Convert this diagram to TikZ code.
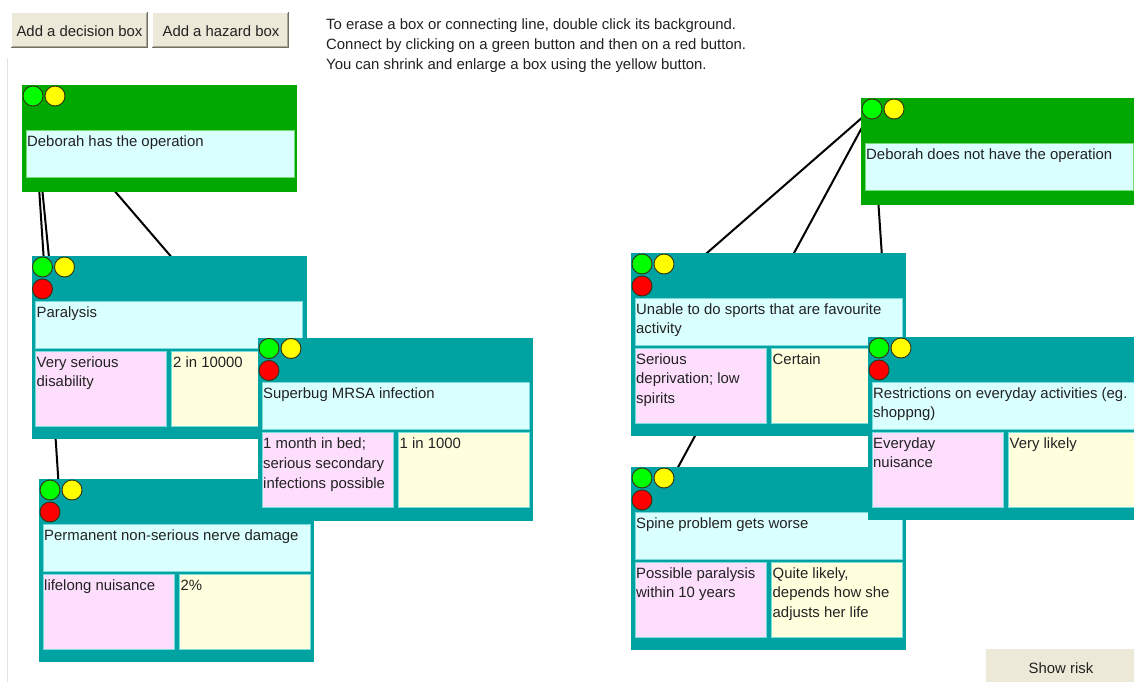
\documentclass[tikz,border=0pt]{standalone}
\usepackage{fontspec}
\setmainfont{Liberation Sans}
\definecolor{decg}{RGB}{0,168,0}
\definecolor{tealc}{RGB}{0,162,162}
\definecolor{cyanc}{RGB}{218,255,255}
\definecolor{pinkc}{RGB}{253,222,253}
\definecolor{yelc}{RGB}{255,255,222}
\definecolor{cyanedge}{RGB}{120,220,220}
\definecolor{greenedge}{RGB}{120,220,120}
\definecolor{btn}{RGB}{236,233,216}
\definecolor{btnshade}{RGB}{172,168,153}
\definecolor{btndark}{RGB}{113,111,100}
\definecolor{txt}{RGB}{34,34,34}
\definecolor{ledgreen}{RGB}{0,255,0}
\definecolor{ledyellow}{RGB}{255,255,0}
\definecolor{ledred}{RGB}{255,0,0}
\definecolor{ledline}{RGB}{50,50,20}
\definecolor{frameline}{RGB}{226,226,226}
\pgfdeclarelayer{back}
\pgfdeclarelayer{lines}
\pgfsetlayers{back,lines,main}
\tikzset{
  boxtext/.style={anchor=north west, inner sep=0pt, align=left, font=\fontsize{14.9}{19.6}\selectfont, text=txt},
  led/.style={circle, minimum size=20pt, inner sep=0pt, draw=ledline, line width=0.9pt},
  celledge/.style={draw=#1, line width=0.7pt},
  celledge/.default=cyanedge,
  conn/.style={draw=black, line width=2pt},
  btnlabel/.style={anchor=base, inner sep=0pt, font=\fontsize{14.9}{19.6}\selectfont, text=txt},
}
\newcommand\winbutton[4]{% x1,y1,x2,y2
  \fill[btn] (#1,#2) rectangle (#3,#4);
  \draw[white, line width=1pt] (#1+0.5,#4) -- (#1+0.5,#2+0.5) -- (#3,#2+0.5);
  \draw[btnshade, line width=1pt] (#1+1,#4-1.5) -- (#3-1.5,#4-1.5) -- (#3-1.5,#2+1);
  \draw[btndark, line width=1pt] (#1,#4-0.5) -- (#3-0.5,#4-0.5) -- (#3-0.5,#2);
}
\newcommand\decisionbox[4]{% name, x, y, title
  \begin{scope}[shift={(#2,#3)}]
    \coordinate (#1) at (0,0);
    \fill[decg] (0,0) rectangle (275,107);
    \draw[celledge=greenedge, fill=cyanc] (4,45) rectangle (272,92);
    \node[boxtext] (#1t) at (5,47.4) {\strut #4};
    \node[led, fill=ledgreen] (#1g) at (11,11) {};
    \node[led, fill=ledyellow] (#1y) at (33,11) {};
  \end{scope}}
\newcommand\hazardbox[6]{% name, x, y, title, impact, probability
  \begin{scope}[shift={(#2,#3)}]
    \coordinate (#1) at (0,0);
    \fill[tealc] (0,0) rectangle (275,183);
    \draw[celledge, fill=cyanc] (4,45) rectangle (271,92);
    \draw[celledge, fill=pinkc] (4,95) rectangle (135,170);
    \draw[celledge, fill=yelc] (140,95) rectangle (271,170);
    \node[boxtext] (#1t) at (5,47.4) {\strut #4};
    \node[boxtext] (#1i) at (5,97.4) {\strut #5};
    \node[boxtext] (#1p) at (141.5,97.4) {\strut #6};
    \node[led, fill=ledred] (#1r) at (11,33) {};
    \node[led, fill=ledgreen] (#1g) at (11,11) {};
    \node[led, fill=ledyellow] (#1y) at (33,11) {};
  \end{scope}}
\begin{document}
\begin{tikzpicture}[x=1pt, y=-1pt]
  \useasboundingbox (0,0) rectangle (1134,682);
  \clip (0,0) rectangle (1134,682);
  \begin{pgfonlayer}{back}
    \fill[white] (0,0) rectangle (1134,682);
    \draw[frameline, line width=1pt] (7,58) -- (7,682);
  \end{pgfonlayer}

  % buttons and help text
  \winbutton{11}{12}{148}{48}
  \node[btnlabel] (adddec) at (79.5,36.5) {Add a decision box};
  \winbutton{152}{12}{289}{48}
  \node[btnlabel] (addhaz) at (221,36.5) {Add a hazard box};
  \winbutton{985}{648}{1145}{695}
  \node[btnlabel] (showrisk) at (1061,673) {Show risk};
  \node[boxtext, font=\fontsize{14.9}{19.8}\selectfont] (help) at (326,15.6)
    {\strut To erase a box or connecting line, double click its background.\\
     Connect by clicking on a green button and then on a red button.\\
     You can shrink and enlarge a box using the yellow button.};

  % left tree
  \decisionbox{dop}{22}{85}{Deborah has the operation}
  \hazardbox{par}{31.5}{256}{Paralysis}{Very serious\\disability}{2 in 10000}
  \hazardbox{perm}{39}{479}{Permanent non-serious nerve damage}{lifelong nuisance}{2\%}
  \hazardbox{mrsa}{258}{337.5}{Superbug MRSA infection}{1 month in bed;\\serious secondary\\infections possible}{1 in 1000}

  % right tree
  \decisionbox{dno}{861}{98}{Deborah does not have the operation}
  \hazardbox{spo}{631}{253}{Unable to do sports that are favourite\\activity}{Serious\\deprivation; low\\spirits}{Certain}
  \hazardbox{spi}{631}{467}{Spine problem gets worse}{Possible paralysis\\within 10 years}{Quite likely,\\depends how she\\adjusts her life}
  \hazardbox{res}{868}{337}{Restrictions on everyday activities (eg.\\shoppng)}{Everyday\\nuisance}{Very likely}

  % connector end points (hidden under the child boxes)
  \path (par) ++(20.5,32) coordinate (parIn);
  \path (perm) ++(21,26) coordinate (permIn);
  \path (spo) ++(45,27) coordinate (spoIn);
  \path (spi) ++(32,28) coordinate (spiIn);
  \path (res) ++(21,23) coordinate (resIn);

  \begin{pgfonlayer}{lines}
    \draw[conn] (dopg.center) -- (parIn);
    \draw[conn] (dopg.center) -- (permIn);
    \draw[conn] (dopg.center) -- (mrsar.center);
    \draw[conn] (dnog.center) -- (spoIn);
    \draw[conn] (dnog.center) -- (spiIn);
    \draw[conn] (dnog.center) -- (resIn);
  \end{pgfonlayer}
\end{tikzpicture}
\end{document}
